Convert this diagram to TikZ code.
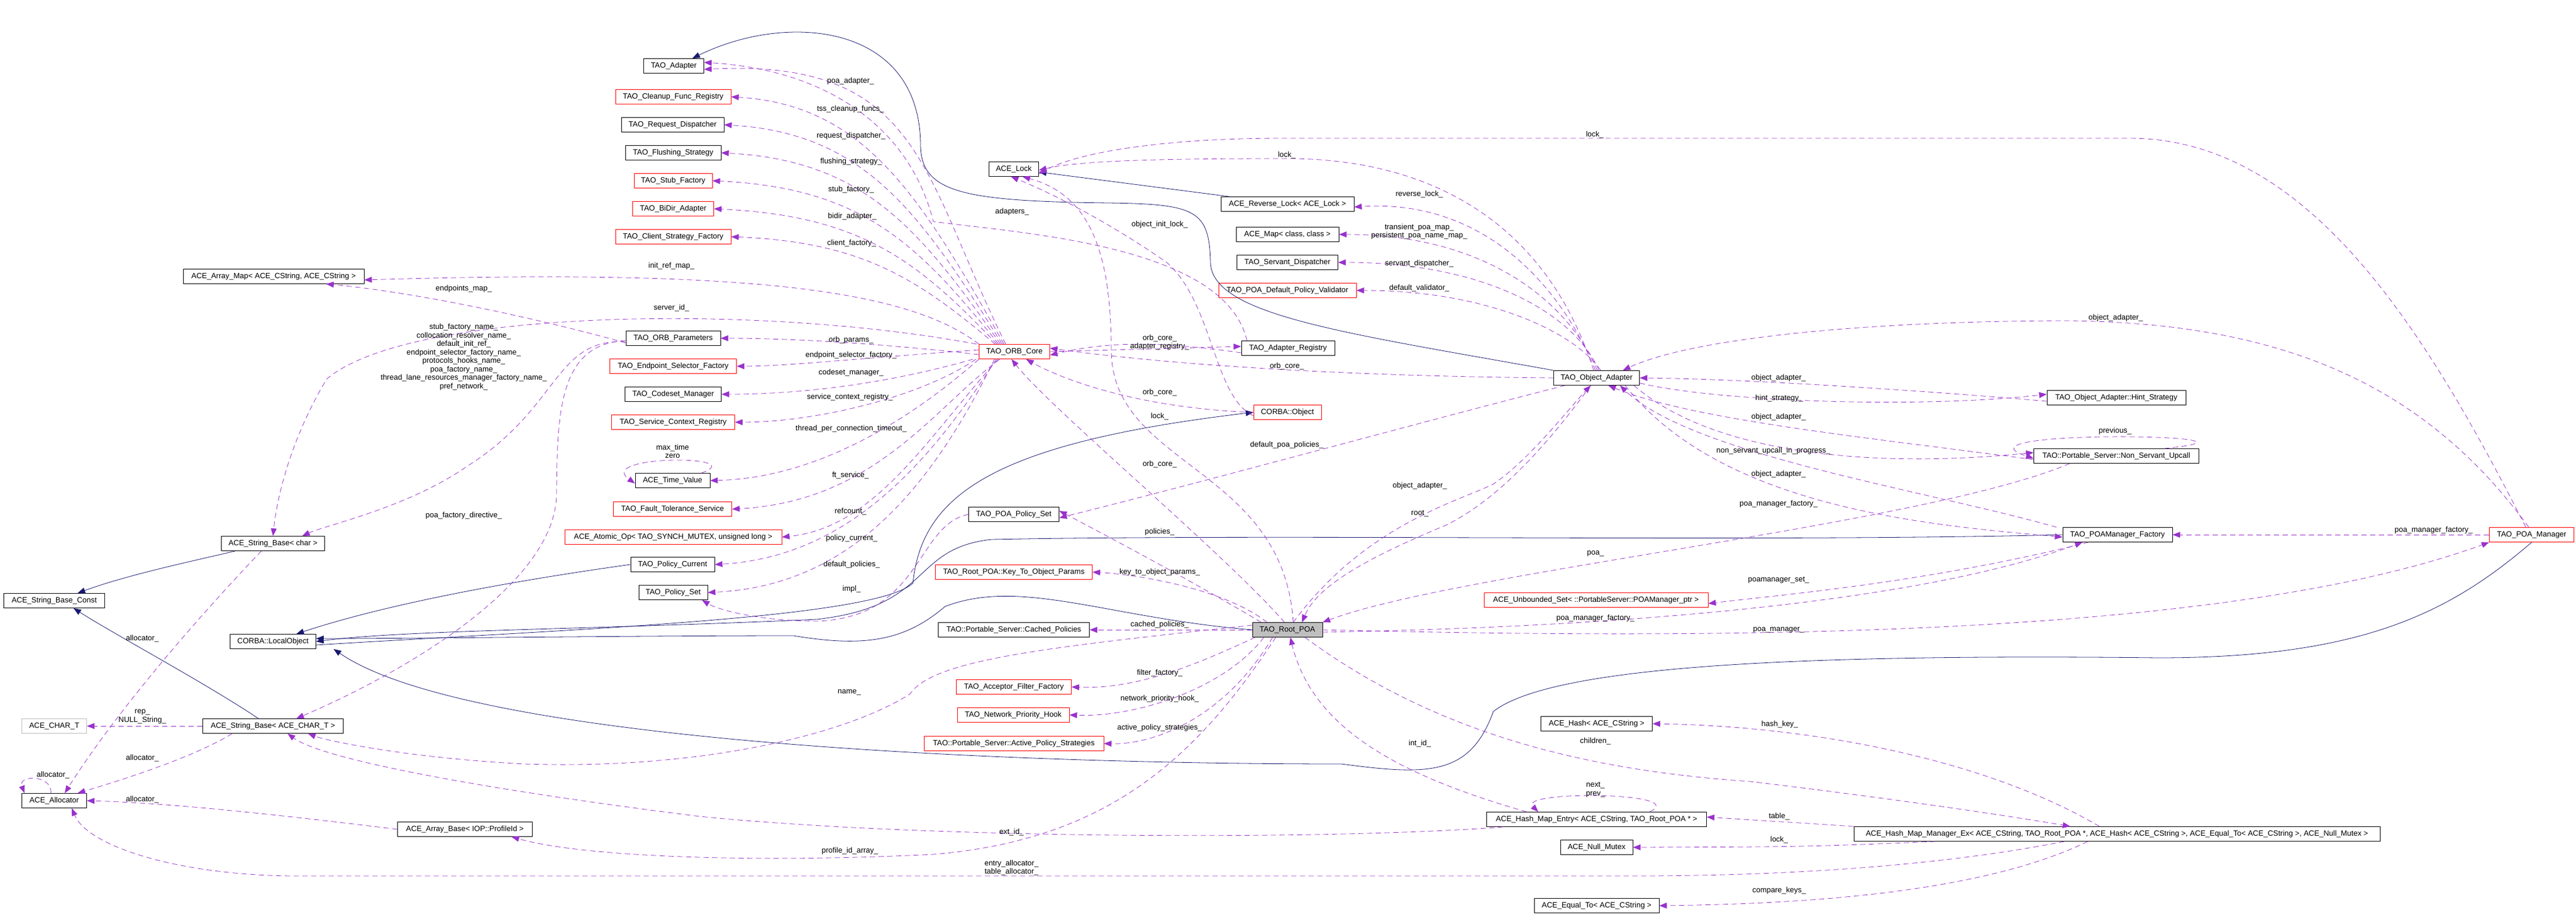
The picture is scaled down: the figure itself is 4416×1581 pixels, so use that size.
\documentclass[tikz,border=0pt]{standalone}
\usepackage{fontspec}
\setmainfont{Liberation Sans}
\usetikzlibrary{arrows.meta}
\definecolor{dep}{RGB}{153,50,204}
\definecolor{inh}{RGB}{25,25,112}
\definecolor{gry}{RGB}{191,191,191}
\catcode`\_=12
\tikzset{
  box/.style={draw=black,line width=0.8pt,rectangle,inner sep=0pt,minimum height=25pt,font=\fontsize{13}{14.5}\selectfont},
  rbox/.style={box,draw=red},
  lbl/.style={inner sep=0pt,align=center,font=\fontsize{13}{14.5}\selectfont},
  depe/.style={draw=dep,line width=0.8pt,dash pattern=on 9pt off 6pt,-{Triangle[length=13pt,width=10pt]},fill=none},
  inhe/.style={draw=inh,line width=0.8pt,-{Triangle[length=13pt,width=10pt,fill=inh]}},
}
\begin{document}
\begin{tikzpicture}[x=1pt,y=-1pt]
\useasboundingbox (0,0) rectangle (4416,1581);
% left column
\node[box,minimum width=103pt] (adapter) at (1155,113) {TAO_Adapter};
\node[rbox,minimum width=198pt] (cleanup) at (1154,166) {TAO_Cleanup_Func_Registry};
\node[box,minimum width=176pt] (reqdisp) at (1153,214) {TAO_Request_Dispatcher};
\node[box,minimum width=164pt] (flush) at (1154,262) {TAO_Flushing_Strategy};
\node[rbox,minimum width=134pt] (stubf) at (1154,310) {TAO_Stub_Factory};
\node[rbox,minimum width=139pt] (bidir) at (1154,358) {TAO_BiDir_Adapter};
\node[rbox,minimum width=198pt] (clientsf) at (1154,406) {TAO_Client_Strategy_Factory};
\node[box,minimum width=310pt] (arraymap) at (469,474) {ACE_Array_Map< ACE_CString, ACE_CString >};
\node[box,minimum width=162pt] (orbparams) at (1154,580) {TAO_ORB_Parameters};
\node[rbox,minimum width=217pt] (endpsel) at (1154,628) {TAO_Endpoint_Selector_Factory};
\node[box,minimum width=165pt] (codeset) at (1154,676) {TAO_Codeset_Manager};
\node[rbox,minimum width=211pt] (svcctx) at (1154,724) {TAO_Service_Context_Registry};
\node[box,minimum width=128pt] (timeval) at (1153,824) {ACE_Time_Value};
\node[rbox,minimum width=203pt] (ftsvc) at (1153,873) {TAO_Fault_Tolerance_Service};
\node[rbox,minimum width=372pt] (atomic) at (1154,921) {ACE_Atomic_Op< TAO_SYNCH_MUTEX, unsigned long >};
\node[box,minimum width=144pt] (pcur) at (1153,968) {TAO_Policy_Current};
\node[box,minimum width=118pt] (pset) at (1154,1016) {TAO_Policy_Set};
% middle
\node[box,minimum width=85pt] (lock) at (1738,290) {ACE_Lock};
\node[rbox,minimum width=121pt] (orb) at (1739,603) {TAO_ORB_Core};
\node[box,minimum width=228pt] (rlock) at (2207,350) {ACE_Reverse_Lock< ACE_Lock >};
\node[box,minimum width=176pt] (acemap) at (2207,402) {ACE_Map< class, class >};
\node[box,minimum width=173pt] (servdisp) at (2207,450) {TAO_Servant_Dispatcher};
\node[rbox,minimum width=236pt] (validator) at (2207,498) {TAO_POA_Default_Policy_Validator};
\node[box,minimum width=160pt] (adreg) at (2208,597) {TAO_Adapter_Registry};
\node[rbox,minimum width=116pt] (cobj) at (2207,707) {CORBA::Object};
\node[box,minimum width=147pt] (oa) at (2737,648) {TAO_Object_Adapter};
\node[box,minimum width=238pt] (hint) at (3628,682) {TAO_Object_Adapter::Hint_Strategy};
\node[box,minimum width=283pt] (upcall) at (3628,782) {TAO::Portable_Server::Non_Servant_Upcall};
% far left
\node[box,minimum width=177pt] (strchar) at (468,932) {ACE_String_Base< char >};
\node[box,minimum width=173pt] (sconst) at (93,1030) {ACE_String_Base_Const};
\node[box,minimum width=147pt] (lobj) at (468,1100) {CORBA::LocalObject};
\node[box,draw=gry,minimum width=111pt] (chart) at (93,1245) {ACE_CHAR_T};
\node[box,minimum width=241pt] (strT) at (468,1245) {ACE_String_Base< ACE_CHAR_T >};
\node[box,minimum width=111pt] (alloc) at (93,1373) {ACE_Allocator};
\node[box,minimum width=231pt] (abase) at (797,1422) {ACE_Array_Base< IOP::ProfileId >};
% lower middle
\node[box,minimum width=155pt] (poapset) at (1738,882) {TAO_POA_Policy_Set};
\node[rbox,minimum width=269pt] (k2o) at (1738,981) {TAO_Root_POA::Key_To_Object_Params};
\node[box,minimum width=259pt] (cached) at (1738,1080) {TAO::Portable_Server::Cached_Policies};
\node[rbox,minimum width=197pt] (filter) at (1738,1178) {TAO_Acceptor_Filter_Factory};
\node[rbox,minimum width=192pt] (nph) at (1737,1226) {TAO_Network_Priority_Hook};
\node[rbox,minimum width=308pt] (aps) at (1738,1275) {TAO::Portable_Server::Active_Policy_Strategies};
\node[box,fill=gry,minimum width=120pt] (rpoa) at (2207,1080) {TAO_Root_POA};
\node[rbox,minimum width=384pt] (uset) at (2736,1029) {ACE_Unbounded_Set< ::PortableServer::POAManager_ptr >};
\node[box,minimum width=191pt] (hash) at (2737,1241) {ACE_Hash< ACE_CString >};
\node[box,minimum width=377pt] (entry) at (2737,1405) {ACE_Hash_Map_Entry< ACE_CString, TAO_Root_POA * >};
\node[box,minimum width=124pt] (nmut) at (2737,1453) {ACE_Null_Mutex};
\node[box,minimum width=214pt] (eqto) at (2737,1553) {ACE_Equal_To< ACE_CString >};
\node[box,minimum width=188pt] (fac) at (3630,917) {TAO_POAManager_Factory};
\node[rbox,minimum width=145pt] (pm) at (4340,917) {TAO_POA_Manager};
\node[box,minimum width=902pt] (hmm) at (3629,1430) {ACE_Hash_Map_Manager_Ex< ACE_CString, TAO_Root_POA *, ACE_Hash< ACE_CString >, ACE_Equal_To< ACE_CString >, ACE_Null_Mutex >};

% ===== inheritance =====
\draw[inhe] (oa.north west) .. controls (2300,570) and (2078,540) .. (2075,450) .. controls (2073,360) and (2050,350) .. (1900,348) .. controls (1650,345) and (1580,330) .. (1578,250) .. controls (1578,40) and (1350,20) .. ([xshift=-20]adapter.north east);
\draw[inhe] ([xshift=15]rlock.north west) -- ([yshift=-5]lock.east);
\draw[inhe] ([xshift=-65]strchar.south) .. controls (340,960) and (220,985) .. ([xshift=40]sconst.north);
\draw[inhe] ([xshift=-25]strT.north) .. controls (350,1170) and (200,1090) .. ([xshift=33]sconst.south);
\draw[inhe] (pcur.west) .. controls (850,1000) and (650,1040) .. ([xshift=40]lobj.north);
\draw[inhe] ([yshift=-6]lobj.east) .. controls (1000,1078) and (1500,1060) .. (1565,1000) .. controls (1580,850) and (1700,760) .. (cobj.west);
\draw[inhe] (fac.west) .. controls (3000,930) and (2200,915) .. (1700,925) .. controls (1560,940) and (1600,1040) .. (1400,1062) .. controls (1000,1080) and (700,1080) .. (lobj.east);
\draw[inhe] (rpoa.west) .. controls (1900,1060) and (1750,990) .. (1620,1040) .. controls (1550,1100) and (1480,1110) .. (1360,1090) .. controls (1100,1090) and (700,1095) .. ([yshift=5]lobj.east);
\draw[inhe] (pm.south) .. controls (4200,1050) and (4050,1128) .. (3700,1128) .. controls (3000,1120) and (2650,1150) .. (2560,1220) .. controls (2520,1330) and (2450,1330) .. (2300,1310) .. controls (1700,1310) and (800,1270) .. ([xshift=30]lobj.south east);

% ===== ORB core fan left =====
\draw[depe] ([xshift=-15]orb.north) .. controls (1580,300) and (1580,100) .. ([yshift=-6]adapter.east);
\draw[depe] ([xshift=-18]orb.north) .. controls (1575,330) and (1480,180) .. (cleanup.east);
\draw[depe] ([xshift=-21]orb.north) .. controls (1575,360) and (1480,228) .. (reqdisp.east);
\draw[depe] ([xshift=-24]orb.north) .. controls (1575,390) and (1480,275) .. (flush.east);
\draw[depe] ([xshift=-27]orb.north) .. controls (1575,420) and (1480,322) .. (stubf.east);
\draw[depe] ([xshift=-30]orb.north) .. controls (1575,450) and (1480,370) .. (bidir.east);
\draw[depe] ([xshift=-33]orb.north) .. controls (1575,480) and (1480,415) .. (clientsf.east);
\draw[depe] (orb.north west) .. controls (1560,500) and (1300,460) .. ([yshift=-6]arraymap.east);
\draw[depe] ([xshift=-4]orb.north west) .. controls (1300,520) and (700,530) .. (560,650) .. controls (500,750) and (475,850) .. (strchar.north);
\draw[depe] ([yshift=-5]orb.west) .. controls (1500,588) and (1350,580) .. (orbparams.east);
\draw[depe] ([yshift=3]orb.west) .. controls (1500,612) and (1350,628) .. (endpsel.east);
\draw[depe] ([xshift=-10]orb.south west) .. controls (1550,650) and (1400,676) .. (codeset.east);
\draw[depe] ([xshift=-5]orb.south west) .. controls (1580,680) and (1400,724) .. (svcctx.east);
\draw[depe] (orb.south west) .. controls (1560,720) and (1400,820) .. (timeval.east);
\draw[depe] ([xshift=-25]orb.south) .. controls (1600,700) and (1500,860) .. (ftsvc.east);
\draw[depe] ([xshift=-28]orb.south) .. controls (1590,750) and (1500,905) .. (atomic.east);
\draw[depe] ([xshift=-31]orb.south) .. controls (1590,800) and (1450,955) .. (pcur.east);
\draw[depe] ([xshift=-34]orb.south) .. controls (1590,850) and (1450,1005) .. (pset.east);
\draw[depe] (poapset.west) .. controls (1570,900) and (1580,1060) .. (1400,1065) .. controls (1300,1065) and (1230,1045) .. ([xshift=-10]pset.south east);
\draw[depe] ([xshift=-15]timeval.north east) .. controls (1290,780) and (1020,780) .. ([yshift=-5]timeval.west);
% ORB parameters
\draw[depe] ([yshift=-8]orbparams.west) .. controls (900,540) and (700,500) .. ([xshift=90]arraymap.south);
\draw[depe] ([yshift=-6]orbparams.west) .. controls (950,580) and (960,700) .. (800,800) .. controls (700,870) and (560,900) .. ([xshift=50]strchar.north);
\draw[depe] ([yshift=-4]orbparams.west) .. controls (960,590) and (955,700) .. (954,850) .. controls (950,1000) and (700,1150) .. ([xshift=40]strT.north);
% adapter registry
\draw[depe] ([xshift=10]adreg.north west) .. controls (2100,420) and (1750,400) .. (1600,380) .. controls (1560,220) and (1420,120) .. ([yshift=6]adapter.east);
\draw[depe] (orb.east) -- ([yshift=3]adreg.west);
\draw[depe] ([yshift=-8]adreg.west) .. controls (1990,585) and (1900,585) .. ([yshift=-6]orb.east);
\draw[depe] (oa.west) .. controls (2300,645) and (2000,625) .. ([yshift=6]orb.east);
\draw[depe] (cobj.west) .. controls (1950,700) and (1820,650) .. ([xshift=20]orb.south);
\draw[depe] ([xshift=-5]rpoa.north) .. controls (2100,950) and (1800,700) .. ([xshift=-5]orb.south);
% ACE_Lock
\draw[depe] ([xshift=10]rpoa.north) .. controls (2200,800) and (1905,800) .. (1905,600) .. controls (1905,400) and (1850,330) .. ([xshift=15]lock.south);
\draw[depe] ([yshift=-6]cobj.west) .. controls (2080,680) and (2080,520) .. (2000,450) .. controls (1900,380) and (1800,330) .. ([xshift=-5]lock.south);
\draw[depe] ([xshift=-5]oa.north) .. controls (2650,380) and (2450,270) .. (2200,272) .. controls (2000,272) and (1850,275) .. ([yshift=-2]lock.east);
\draw[depe] ([xshift=-10]pm.north) .. controls (4150,550) and (3950,237) .. (3650,237) -- (2200,237) .. controls (2000,237) and (1850,260) .. ([yshift=-8]lock.east);
% object adapter left
\draw[depe] ([xshift=-2]oa.north) .. controls (2680,500) and (2550,340) .. ([yshift=-5]rlock.east);
\draw[depe] ([xshift=1]oa.north) .. controls (2690,520) and (2550,402) .. (acemap.east);
\draw[depe] ([xshift=4]oa.north) .. controls (2700,540) and (2550,450) .. (servdisp.east);
\draw[depe] ([xshift=7]oa.north) .. controls (2700,570) and (2550,498) .. (validator.east);
\draw[depe] ([xshift=20]oa.south west) .. controls (2450,720) and (2050,830) .. ([yshift=-6]poapset.east);
% root poa left fan
\draw[depe] ([xshift=-45]rpoa.north) .. controls (2050,1000) and (1900,920) .. ([yshift=6]poapset.east);
\draw[depe] ([xshift=-35]rpoa.north) .. controls (2100,1010) and (1950,985) .. (k2o.east);
\draw[depe] (rpoa.west) -- (cached.east);
\draw[depe] ([xshift=5]rpoa.south west) .. controls (2050,1140) and (1950,1182) .. (filter.east);
\draw[depe] ([xshift=20]rpoa.south west) .. controls (2100,1180) and (1950,1230) .. (nph.east);
\draw[depe] ([xshift=35]rpoa.south west) .. controls (2100,1230) and (1980,1277) .. (aps.east);
\draw[depe] ([yshift=8]rpoa.west) .. controls (1800,1110) and (1600,1130) .. (1560,1190) .. controls (1450,1260) and (1200,1320) .. (900,1310) .. controls (700,1300) and (560,1270) .. ([xshift=60]strT.south);
\draw[depe] ([xshift=-20]rpoa.south) .. controls (2050,1300) and (1900,1440) .. (1600,1465) .. controls (1300,1480) and (1000,1470) .. ([xshift=80]abase.south);
% root poa <-> object adapter
\draw[depe] ([xshift=10]rpoa.north) .. controls (2340,900) and (2500,860) .. (2560,830) .. controls (2620,790) and (2690,700) .. ([xshift=-10]oa.south);
\draw[depe] ([xshift=-10]oa.south) .. controls (2640,780) and (2560,860) .. (2480,900) .. controls (2360,950) and (2260,1000) .. ([xshift=25]rpoa.north);
\draw[depe] ([xshift=-80]upcall.south) .. controls (3300,900) and (2500,980) .. (rpoa.north east);
% object adapter right
\draw[depe] ([yshift=-6]hint.west) .. controls (3300,670) and (3000,650) .. (oa.east);
\draw[depe] ([yshift=4]oa.south east) .. controls (2950,690) and (3300,700) .. ([yshift=6]hint.west);
\draw[depe] ([yshift=-6]upcall.west) .. controls (3200,750) and (2900,720) .. ([xshift=20]oa.south);
\draw[depe] ([xshift=-10]oa.south east) .. controls (2950,790) and (3250,800) .. ([yshift=6]upcall.west);
\draw[depe] ([xshift=-60]upcall.north east) .. controls (3950,745) and (3330,735) .. ([yshift=-4]upcall.west);
\draw[depe] ([xshift=-10]fac.north west) .. controls (3300,840) and (2900,780) .. ([xshift=40]oa.south);
\draw[depe] ([xshift=-25]oa.south east) .. controls (2950,870) and (3300,900) .. ([yshift=-4]fac.west);
\draw[depe] ([xshift=-5]pm.north) .. controls (4150,650) and (3900,555) .. (3550,550) .. controls (3200,550) and (2900,580) .. ([xshift=45]oa.north);
\draw[depe] (pm.west) -- (fac.east);
\draw[depe] (rpoa.east) .. controls (2900,1095) and (3800,1100) .. (pm.south west);
\draw[depe] ([yshift=-4]rpoa.east) .. controls (2800,1075) and (3300,1030) .. ([xshift=-60]fac.south);
\draw[depe] ([xshift=-50]fac.south) .. controls (3300,1000) and (3050,1020) .. ([yshift=-6]uset.east);
% hash map
\draw[depe] (hmm.north west) .. controls (3100,1412) .. ([yshift=4]entry.east);
\draw[depe] ([xshift=140]hmm.south west) .. controls (3100,1452) .. (nmut.east);
\draw[depe] ([xshift=-50]hmm.south) .. controls (3400,1530) and (3100,1550) .. (eqto.east);
\draw[depe] ([xshift=-30]hmm.north) .. controls (3400,1300) and (3100,1245) .. (hash.east);
\draw[depe] ([xshift=30]rpoa.south) .. controls (2450,1250) and (2700,1320) .. (3000,1340) .. controls (3250,1370) and (3450,1400) .. ([xshift=-80]hmm.north);
\draw[depe] ([xshift=-90]hmm.south) .. controls (3350,1480) and (3100,1502) .. (2800,1502) -- (500,1502) .. controls (300,1500) and (150,1450) .. ([xshift=30]alloc.south);
\draw[depe] ([xshift=-160]entry.south) .. controls (2300,1440) and (1600,1440) .. (1200,1400) .. controls (800,1350) and (550,1300) .. ([xshift=25]strT.south);
\draw[depe] ([xshift=-120]entry.north) .. controls (2400,1330) and (2250,1250) .. ([xshift=5]rpoa.south);
\draw[depe] ([xshift=91]entry.north) .. controls (2900,1358) and (2600,1355) .. ([xshift=-100]entry.north);
% string bases / allocator
\draw[depe] ([xshift=-20]strchar.south) .. controls (300,1100) and (180,1250) .. ([xshift=18]alloc.north);
\draw[depe] ([xshift=-70]strT.south) .. controls (330,1300) and (200,1340) .. ([xshift=40]alloc.north);
\draw[depe] ([xshift=50]alloc.north west) .. controls (90,1328) and (30,1328) .. ([xshift=5]alloc.north west);
\draw[depe] (abase.west) .. controls (500,1400) and (300,1377) .. (alloc.east);
\draw[depe] (strT.west) -- (chart.east);

% ===== labels =====
\node[lbl] at (1458,139) {poa_adapter_};
\node[lbl] at (1458,187) {tss_cleanup_funcs_};
\node[lbl] at (1459,233) {request_dispatcher_};
\node[lbl] at (1459,277) {flushing_strategy_};
\node[lbl] at (1459,325) {stub_factory_};
\node[lbl] at (1461,371) {bidir_adapter_};
\node[lbl] at (1460,417) {client_factory_};
\node[lbl] at (1151,456) {init_ref_map_};
\node[lbl] at (1151,528) {server_id_};
\node[lbl] at (1459,583) {orb_params_};
\node[lbl] at (1459,609) {endpoint_selector_factory_};
\node[lbl] at (1459,639) {codeset_manager_};
\node[lbl] at (1457,681) {service_context_registry_};
\node[lbl] at (1459,735) {thread_per_connection_timeout_};
\node[lbl] at (1153,774) {max_time\\zero};
\node[lbl] at (1458,815) {ft_service_};
\node[lbl] at (1458,877) {refcount_};
\node[lbl] at (1460,923) {policy_current_};
\node[lbl] at (1460,968) {default_policies_};
\node[lbl] at (1460,1010) {impl_};
\node[lbl] at (795,495) {endpoints_map_};
\node[lbl] at (795,612) {stub_factory_name_\\collocation_resolver_name_\\default_init_ref_\\endpoint_selector_factory_name_\\protocols_hooks_name_\\poa_factory_name_\\thread_lane_resources_manager_factory_name_\\pref_network_};
\node[lbl] at (795,884) {poa_factory_directive_};
\node[lbl] at (244,1095) {allocator_};
\node[lbl] at (244,1229) {rep_\\NULL_String_};
\node[lbl] at (244,1300) {allocator_};
\node[lbl] at (91,1329) {allocator_};
\node[lbl] at (244,1371) {allocator_};
\node[lbl] at (1735,363) {adapters_};
\node[lbl] at (1988,385) {object_init_lock_};
\node[lbl] at (1988,580) {orb_core_};
\node[lbl] at (1988,594) {adapter_registry_};
\node[lbl] at (1988,673) {orb_core_};
\node[lbl] at (1988,714) {lock_};
\node[lbl] at (1988,796) {orb_core_};
\node[lbl] at (2734,231) {lock_};
\node[lbl] at (2206,266) {lock_};
\node[lbl] at (2433,333) {reverse_lock_};
\node[lbl] at (2433,397) {transient_poa_map_\\persistent_poa_name_map_};
\node[lbl] at (2433,452) {servant_dispatcher_};
\node[lbl] at (2433,494) {default_validator_};
\node[lbl] at (2206,628) {orb_core_};
\node[lbl] at (2206,763) {default_poa_policies_};
\node[lbl] at (3049,648) {object_adapter_};
\node[lbl] at (3050,683) {hint_strategy_};
\node[lbl] at (3049,715) {object_adapter_};
\node[lbl] at (3040,773) {non_servant_upcall_in_progress_};
\node[lbl] at (3627,545) {object_adapter_};
\node[lbl] at (3626,739) {previous_};
\node[lbl] at (1988,912) {policies_};
\node[lbl] at (1988,981) {key_to_object_params_};
\node[lbl] at (1988,1071) {cached_policies_};
\node[lbl] at (1988,1154) {filter_factory_};
\node[lbl] at (1988,1198) {network_priority_hook_};
\node[lbl] at (1988,1248) {active_policy_strategies_};
\node[lbl] at (1456,1187) {name_};
\node[lbl] at (1734,1427) {ext_id_};
\node[lbl] at (1457,1459) {profile_id_array_};
\node[lbl] at (1734,1488) {entry_allocator_\\table_allocator_};
\node[lbl] at (2434,833) {object_adapter_};
\node[lbl] at (2434,881) {root_};
\node[lbl] at (2735,949) {poa_};
\node[lbl] at (3049,995) {poamanager_set_};
\node[lbl] at (2735,1060) {poa_manager_factory_};
\node[lbl] at (3049,1080) {poa_manager_};
\node[lbl] at (3049,813) {object_adapter_};
\node[lbl] at (3049,864) {poa_manager_factory_};
\node[lbl] at (4172,909) {poa_manager_factory_};
\node[lbl] at (3051,1242) {hash_key_};
\node[lbl] at (2735,1271) {children_};
\node[lbl] at (2434,1275) {int_id_};
\node[lbl] at (2735,1354) {next_\\prev_};
\node[lbl] at (3050,1400) {table_};
\node[lbl] at (3050,1440) {lock_};
\node[lbl] at (3050,1527) {compare_keys_};
\end{tikzpicture}
\end{document}
